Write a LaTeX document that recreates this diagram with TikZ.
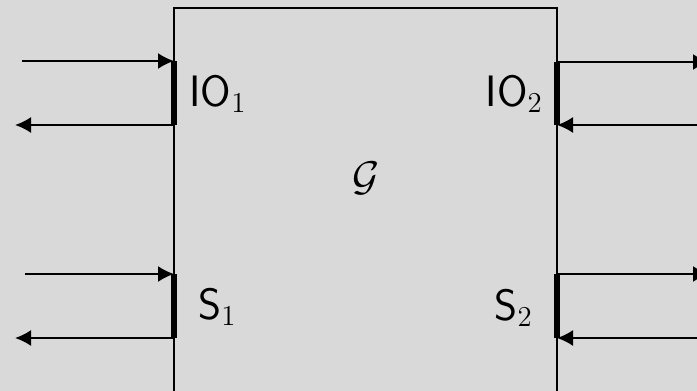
\documentclass[tikz,border=0pt]{standalone}
\usepackage{fontspec}
\usetikzlibrary{arrows.meta}
\definecolor{paper}{RGB}{217,217,217}
\tikzset{
    wire/.style={line width=1pt},
    flow/.style={wire, -{Latex[length=8pt, width=8pt]}},
    portbar/.style={line width=2.6pt},
    lbl/.style={inner sep=0pt, font=\fontsize{22}{26}\selectfont}
}
\begin{document}
\begin{tikzpicture}[x=0.5pt, y=-0.5pt]
    % Background
    \fill[paper] (0,0) rectangle (697,391);
    \useasboundingbox (0,0) rectangle (697,391);

    % Box (open at the bottom)
    \draw[wire] (174,400) -- (174,8) -- (557,8) -- (557,400);
    \node[lbl] (G) at (366,178) {$\mathcal{G}$};

    % Port ends (top/bottom of each bar)
    \coordinate (io1-t) at (174,61);
    \coordinate (io1-b) at (174,125);
    \coordinate (s1-t) at (174,274);
    \coordinate (s1-b) at (174,338);
    \coordinate (io2-t) at (557,62);
    \coordinate (io2-b) at (557,125);
    \coordinate (s2-t) at (557,274);
    \coordinate (s2-b) at (557,338);

    % Free ends outside the box
    \coordinate (io1-in) at (22,61);
    \coordinate (io1-out) at (15,125);
    \coordinate (s1-in) at (25,274);
    \coordinate (s1-out) at (15,338);
    \coordinate (io2-out) at (709,62);
    \coordinate (io2-in) at (697,125);
    \coordinate (s2-out) at (709,274);
    \coordinate (s2-in) at (697,338);

    % Port bars
    \foreach \p in {io1, s1, io2, s2} {
        \draw[portbar] (\p-t) -- (\p-b);
    }

    % Left ports: in at top, out at bottom
    \foreach \p in {io1, s1} {
        \draw[flow] (\p-in) -- (\p-t);
        \draw[flow] (\p-b) -- (\p-out);
    }

    % Right ports: out at top, in at bottom
    \foreach \p in {io2, s2} {
        \draw[flow] (\p-t) -- (\p-out);
        \draw[flow] (\p-in) -- (\p-b);
    }

    % Labels
    \node[lbl, anchor=base west] (io1) at (189,106) {\textsf{IO}$_1$};
    \node[lbl, anchor=base east] (io2) at (543,106) {\textsf{IO}$_2$};
    \node[lbl, anchor=base west] (s1) at (198,319) {\textsf{S}$_1$};
    \node[lbl, anchor=base east] (s2) at (533,320) {\textsf{S}$_2$};
\end{tikzpicture}
\end{document}
